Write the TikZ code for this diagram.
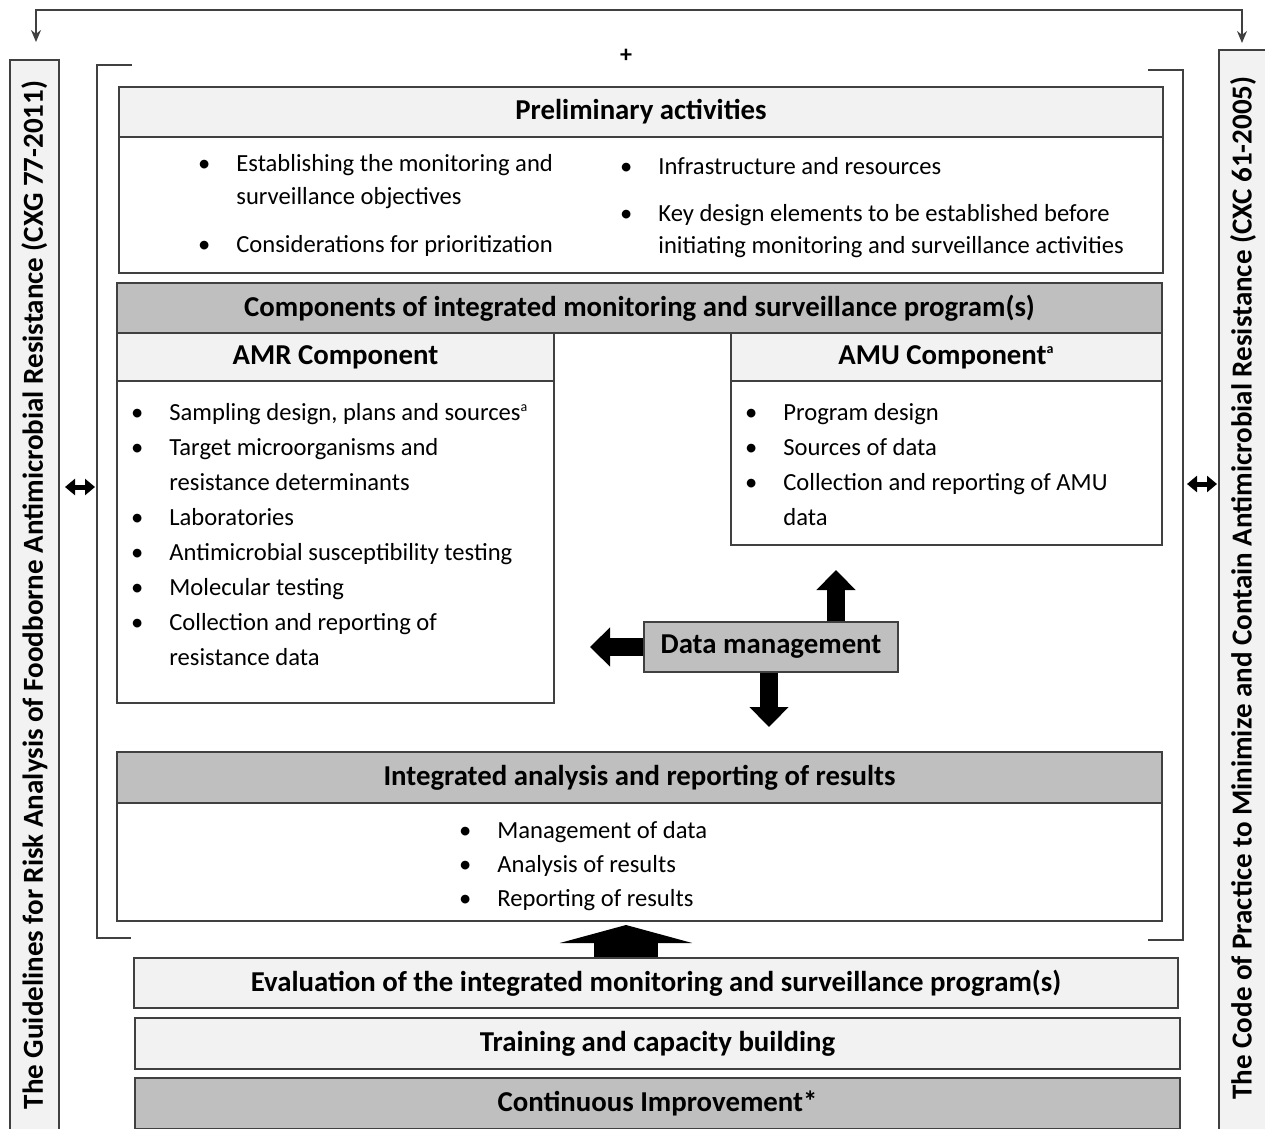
\documentclass[tikz,border=0pt]{standalone}
\usepackage{fontspec}
\setmainfont{Carlito}
\usetikzlibrary{arrows.meta}

\definecolor{lightbox}{HTML}{F2F2F2}
\definecolor{darkbox}{HTML}{BFBFBF}
\definecolor{edge}{HTML}{404040}

\newcommand{\bul}{\llap{\textbullet\hspace{13pt}}}

\tikzset{
	box/.style={draw=edge, line width=0.8pt},
	headbox/.style={box, fill=lightbox, font=\bfseries\fontsize{14.4}{16}\selectfont, inner sep=0pt},
	greybox/.style={box, fill=darkbox, font=\bfseries\fontsize{14.4}{16}\selectfont, inner sep=0pt},
	list/.style={anchor=base west, align=left, inner sep=0pt, font=\fontsize{12.3}{17.5}\selectfont},
	fat/.style={line width=9pt, -{Triangle[width=19pt, length=10pt]}},
	link/.style={draw=edge, line width=0.6pt},
	dbl/.style={line width=2.5pt, {Triangle[width=8pt, length=5pt]}-{Triangle[width=8pt, length=5pt]}}
}

\begin{document}
\begin{tikzpicture}[x=0.5pt, y=-0.5pt]
	\useasboundingbox (0,0) rectangle (1265,1129);
	\clip (0,0) rectangle (1265,1129);

	% side boxes
	\draw[box, fill=lightbox] (10,60) rectangle (59,1140);
	\node[rotate=90, font=\bfseries\fontsize{14.5}{16}\selectfont] (guide) at (34.5,595) {The Guidelines for Risk Analysis of Foodborne Antimicrobial Resistance (CXG 77-2011)};
	\draw[box, fill=lightbox] (1219,50) rectangle (1275,1140);
	\node[rotate=90, font=\bfseries\fontsize{14.5}{16}\selectfont] (code) at (1243,588) {The Code of Practice to Minimize and Contain Antimicrobial Resistance (CXC 61-2005)};

	% top link between the two codex texts
	\coordinate (gtop) at (36,42);
	\coordinate (ctop) at (1242,43);
	\draw[link, {Stealth[length=6pt, width=5pt]}-{Stealth[length=6pt, width=5pt]}] (gtop) -- ++(0,-32) -| (ctop);

	% brackets
	\draw[link] (132,65) -- (97,65) -- (97,938) -- (131,938);
	\draw[link] (1148,70) -- (1183,70) -- (1183,940) -- (1148,940);
	\node[font=\bfseries\fontsize{12}{14}\selectfont] (plus) at (626,56) {+};

	\coordinate (la) at (65,487);
	\coordinate (lb) at (95,487);
	\coordinate (ra) at (1187,484);
	\coordinate (rb) at (1217,484);
	\draw[dbl] (la) -- (lb);
	\draw[dbl] (ra) -- (rb);

	% preliminary activities
	\node[headbox, minimum width=522pt, minimum height=25pt] (prelim) at (641,112) {Preliminary activities};
	\draw[box] (119,137) rectangle (1163,273);
	\node[list, font=\fontsize{12.3}{16}\selectfont] (prelimleft) at (236,252) {\bul Establishing the monitoring and\\ surveillance objectives\\[8pt]\bul Considerations for prioritization};
	\node[list, font=\fontsize{12.3}{16}\selectfont] (prelimright) at (658,253) {\bul Infrastructure and resources\\[7.5pt]\bul Key design elements to be established before\\ initiating monitoring and surveillance activities};

	% components
	\node[greybox, minimum width=522.5pt, minimum height=25pt] (comp) at (639.5,308) {Components of integrated monitoring and surveillance program(s)};

	\node[headbox, minimum width=218.5pt, minimum height=24pt] (amr) at (335.5,357) {AMR Component};
	\draw[box] (117,381) rectangle (554,703);
	\node[list] (amrlist) at (169,665) {\bul Sampling design, plans and sources\textsuperscript{\scriptsize a}\\\bul Target microorganisms and\\ resistance determinants\\\bul Laboratories\\\bul Antimicrobial susceptibility testing\\\bul Molecular testing\\\bul Collection and reporting of\\ resistance data};

	\node[headbox, minimum width=215.5pt, minimum height=24pt] (amu) at (946.5,357) {AMU Component\textsuperscript{\scriptsize a}};
	\draw[box] (731,381) rectangle (1162,545);
	\node[list] (amulist) at (783,525) {\bul Program design\\\bul Sources of data\\\bul Collection and reporting of AMU\\ data};

	% data management
	\node[greybox, minimum width=127pt, minimum height=25pt] (dm) at (771,647) {Data management};
	\coordinate (leftend) at (590,647);
	\coordinate (upend) at (836,570);
	\coordinate (downend) at (769,727);
	\draw[fat] (dm.west) -- (leftend);
	\draw[fat] (dm.north -| upend) -- (upend);
	\draw[fat] (dm.south -| downend) -- (downend);

	% integrated analysis
	\node[greybox, minimum width=522.5pt, minimum height=25.5pt] (integ) at (639.5,777.5) {Integrated analysis and reporting of results};
	\draw[box] (117,803) rectangle (1162,921);
	\node[list, font=\fontsize{12.3}{17}\selectfont] (integlist) at (497,906) {\bul Management of data\\\bul Analysis of results\\\bul Reporting of results};

	% bottom bars
	\node[headbox, minimum width=522pt, minimum height=25pt] (eval) at (656,983) {Evaluation of the integrated monitoring and surveillance program(s)};
	\node[headbox, minimum width=522.5pt, minimum height=25.5pt] (train) at (657.5,1043.5) {Training and capacity building};
	\node[greybox, minimum width=522.5pt, minimum height=25.5pt] (cont) at (657.5,1103.5) {Continuous Improvement*};

	\coordinate (bigtip) at (626,925);
	\draw[line width=32pt, -{Triangle[width=66pt, length=9pt]}] (eval.north -| bigtip) -- (bigtip);
\end{tikzpicture}
\end{document}
